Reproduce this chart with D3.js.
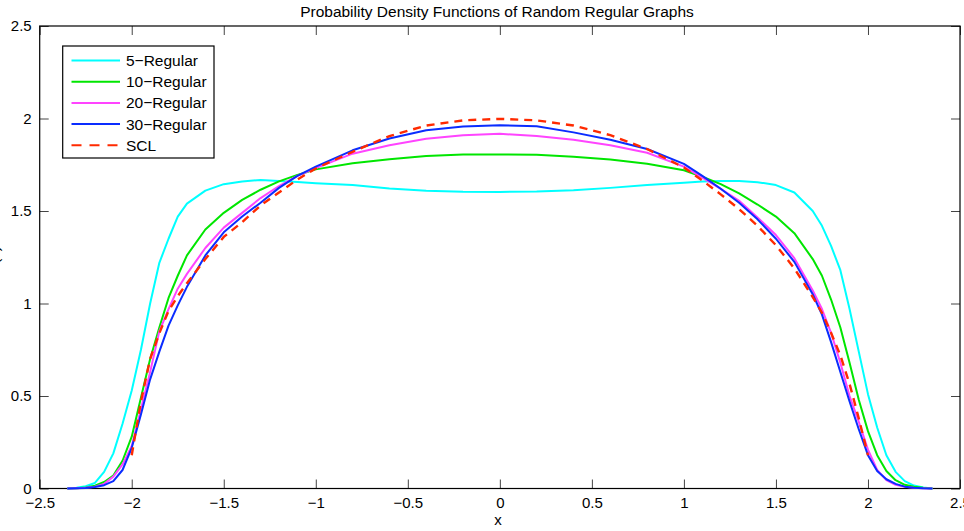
<!DOCTYPE html>
<html>
<head>
<meta charset="utf-8">
<script src="https://cdn.jsdelivr.net/npm/d3@7"></script>
<style>
  html, body { margin: 0; padding: 0; background: #fff; }
  svg { display: block; font-family: "Liberation Sans", Arial, Helvetica, sans-serif; }
</style>
</head>
<body>
<svg id="chart" width="964" height="531"></svg>
<script>
// ---- data ----
const xs = [-2.35,-2.3,-2.25,-2.2,-2.15,-2.1,-2.05,-2.0,-1.95,-1.9,-1.85,-1.8,-1.75,-1.7,-1.6,-1.5,-1.4,-1.3,-1.2,-1.1,-1.0,-0.8,-0.6,-0.4,-0.2,0,0.2,0.4,0.6,0.8,1.0,1.1,1.2,1.3,1.4,1.5,1.6,1.7,1.75,1.8,1.85,1.9,1.95,2.0,2.05,2.1,2.15,2.2,2.25,2.3,2.35];

const reg5 = [0,0.004,0.012,0.03,0.09,0.19,0.35,0.53,0.75,1.0,1.22,1.35,1.47,1.54,1.61,1.645,1.66,1.668,1.662,1.657,1.65,1.64,1.622,1.61,1.604,1.603,1.605,1.612,1.625,1.64,1.653,1.66,1.662,1.662,1.656,1.64,1.60,1.50,1.42,1.31,1.18,0.97,0.74,0.51,0.33,0.18,0.09,0.04,0.016,0.006,0];

const reg10 = [0,0.002,0.006,0.015,0.035,0.07,0.15,0.28,0.49,0.70,0.87,1.03,1.15,1.26,1.40,1.49,1.56,1.615,1.66,1.695,1.725,1.758,1.78,1.797,1.805,1.806,1.804,1.793,1.778,1.755,1.72,1.685,1.645,1.595,1.535,1.47,1.38,1.24,1.15,1.02,0.87,0.68,0.48,0.31,0.18,0.095,0.045,0.02,0.01,0.004,0];

const reg20 = [0,0.002,0.004,0.01,0.025,0.064,0.13,0.23,0.43,0.63,0.85,0.97,1.08,1.16,1.30,1.41,1.49,1.57,1.635,1.69,1.732,1.81,1.855,1.89,1.91,1.917,1.905,1.885,1.855,1.815,1.74,1.68,1.62,1.555,1.465,1.37,1.245,1.07,0.97,0.84,0.68,0.50,0.36,0.21,0.10,0.045,0.02,0.01,0.004,0.001,0];

const reg30 = [0,0.001,0.003,0.008,0.018,0.04,0.10,0.22,0.40,0.59,0.74,0.88,0.99,1.09,1.26,1.385,1.47,1.545,1.625,1.69,1.74,1.828,1.892,1.937,1.957,1.963,1.958,1.925,1.885,1.835,1.755,1.69,1.62,1.545,1.455,1.35,1.225,1.05,0.94,0.79,0.63,0.47,0.32,0.18,0.095,0.05,0.025,0.01,0.004,0.001,0];

const sclX = [-2.0,-1.95,-1.9,-1.85,-1.8,-1.75,-1.7,-1.6,-1.5,-1.4,-1.3,-1.2,-1.1,-1.0,-0.8,-0.6,-0.4,-0.2,0,0.2,0.4,0.6,0.8,1.0,1.1,1.2,1.3,1.4,1.5,1.6,1.7,1.75,1.8,1.85,1.9,1.95,2.0];
const scl = [0.18,0.47,0.70,0.84,0.96,1.04,1.11,1.24,1.36,1.44,1.53,1.60,1.67,1.73,1.82,1.905,1.962,1.99,1.998,1.99,1.962,1.91,1.835,1.735,1.665,1.59,1.51,1.42,1.315,1.19,1.035,0.95,0.84,0.72,0.565,0.38,0.18];

const seriesNames = ["5\u2212Regular","10\u2212Regular","20\u2212Regular","30\u2212Regular","SCL"];
const seriesColors = ["#00ffff","#00e600","#ff44ff","#0a2cff","#ff2a00"];

const xTicks = [-2.5,-2,-1.5,-1,-0.5,0,0.5,1,1.5,2,2.5];
const yTicks = [0,0.5,1,1.5,2,2.5];

const titleText = "Probability Density Functions of Random Regular Graphs";
const xLabel = "x";
const yLabel = "f(x)";

// ---- drawing ----
const svg = d3.select("#chart");
const L = 39.7, R = 960, T = 26, B = 488.5;
const x = d3.scaleLinear().domain([-2.5, 2.5]).range([L, R]);
const y = d3.scaleLinear().domain([0, 2.5]).range([B, T]);
const fmt = d3.format("~g");
const tickLen = 9;

function styleAxis(g) {
  g.select(".domain").remove();
  g.selectAll(".tick line").attr("stroke", "#444").attr("stroke-width", 1);
  g.selectAll(".tick text").attr("fill", "#000").style("font-size", "15px")
    .style("font-family", "\"Liberation Sans\", Arial, sans-serif");
}

svg.append("g").attr("transform", `translate(0,${B})`)
  .call(d3.axisBottom(x).tickValues(xTicks).tickFormat(fmt).tickSizeInner(-tickLen).tickSizeOuter(0).tickPadding(9))
  .call(styleAxis);
svg.append("g").attr("transform", `translate(0,${T})`)
  .call(d3.axisTop(x).tickValues(xTicks).tickFormat("").tickSizeInner(-tickLen).tickSizeOuter(0))
  .call(styleAxis);
svg.append("g").attr("transform", `translate(${L},0)`)
  .call(d3.axisLeft(y).tickValues(yTicks).tickFormat(fmt).tickSizeInner(-tickLen).tickSizeOuter(0).tickPadding(8))
  .call(styleAxis);
svg.append("g").attr("transform", `translate(${R},0)`)
  .call(d3.axisRight(y).tickValues(yTicks).tickFormat("").tickSizeInner(-tickLen).tickSizeOuter(0))
  .call(styleAxis);

// box
svg.append("rect").attr("x", L).attr("y", T).attr("width", R - L).attr("height", B - T)
  .attr("fill", "none").attr("stroke", "#000").attr("stroke-width", 1.2);

// lines
const line = d3.line().x(d => x(d[0])).y(d => y(d[1]));
const regSeries = [reg5, reg10, reg20, reg30];
regSeries.forEach((vals, i) => {
  svg.append("path").datum(xs.map((xv, j) => [xv, vals[j]]))
    .attr("d", line).attr("fill", "none")
    .attr("stroke", seriesColors[i]).attr("stroke-width", 2)
    .attr("stroke-linejoin", "round");
});
svg.append("path").datum(sclX.map((xv, j) => [xv, scl[j]]))
  .attr("d", line).attr("fill", "none")
  .attr("stroke", seriesColors[4]).attr("stroke-width", 2.4)
  .attr("stroke-dasharray", "8,6");

// title and labels
svg.append("text").attr("x", 497).attr("y", 17).attr("text-anchor", "middle")
  .style("font-size", "15.5px").text(titleText);
svg.append("text").attr("x", 498).attr("y", 525).attr("text-anchor", "middle")
  .style("font-size", "15px").text(xLabel);
svg.append("text").attr("transform", "translate(-1,257) rotate(-90)").attr("text-anchor", "middle")
  .style("font-size", "15px").text(yLabel);

// legend
const lg = svg.append("g");
lg.append("rect").attr("x", 62.7).attr("y", 46).attr("width", 151.3).attr("height", 112)
  .attr("fill", "#fff").attr("stroke", "#000").attr("stroke-width", 1.2);
seriesNames.forEach((name, i) => {
  const ry = 60.5 + i * 21.2;
  lg.append("line").attr("x1", 71.5).attr("x2", 120).attr("y1", ry).attr("y2", ry)
    .attr("stroke", seriesColors[i]).attr("stroke-width", 2)
    .attr("stroke-dasharray", i === 4 ? "10,8" : null);
  lg.append("text").attr("x", 126).attr("y", ry).attr("dy", "0.35em")
    .style("font-size", "15.5px").text(name);
});
</script>
</body>
</html>
